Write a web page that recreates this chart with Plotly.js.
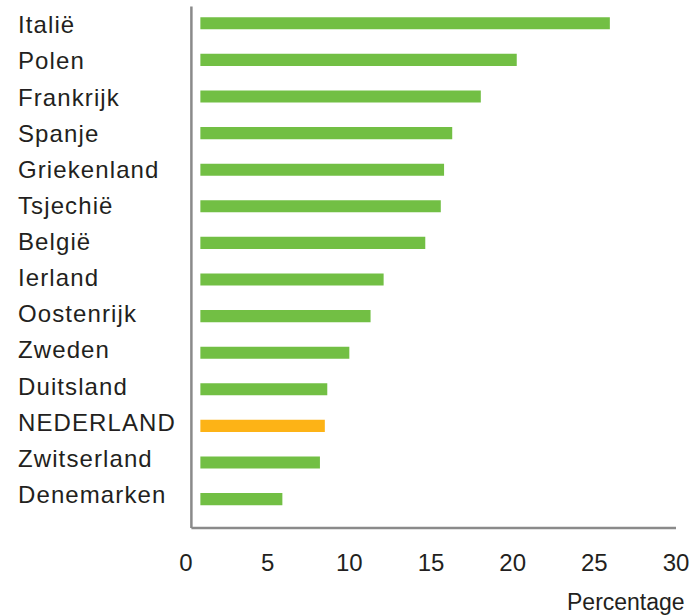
<!DOCTYPE html>
<html>
<head>
<meta charset="utf-8">
<script src="https://cdn.plot.ly/plotly-3.0.1.min.js"></script>
<style>
  html, body { margin: 0; padding: 0; background: #ffffff; }
  #chart { width: 700px; height: 615px; }
</style>
</head>
<body>
<div id="chart"></div>
<script>
// ---- data ----
const categories = ['Italië', 'Polen', 'Frankrijk', 'Spanje', 'Griekenland', 'Tsjechië', 'België',
  'Ierland', 'Oostenrijk', 'Zweden', 'Duitsland', 'NEDERLAND', 'Zwitserland', 'Denemarken'];
const values = [25.95, 20.25, 18.05, 16.3, 15.8, 15.6, 14.65, 12.1, 11.3, 10.0, 8.65, 8.5, 8.2, 5.9];
const highlight = 'NEDERLAND';
const tickValues = [0, 5, 10, 15, 20, 25, 30];
const tickLabels = ['0', '5', '10', '15', '20', '25', '30'];
const xTitle = 'Percentage';

// ---- styling ----
const GREEN = '#72bf44';
const ORANGE = '#fdb316';
const AXIS_COLOR = '#8a8a8a';
const TEXT_COLOR = '#231f20';
const FONT = 'Liberation Sans, Arial, Helvetica, sans-serif';
const BAR_START = 0.88;   // bars start a little right of the axis line
const AXIS_X = 0.33;      // position of the vertical axis line

// label column geometry (pixels inside the 700x615 page)
const PLOT_TOP = 4.7, PLOT_H = 523;
const LABEL_TOP = 24.5, LABEL_STEP = 36.13;

const trace = {
  type: 'bar',
  orientation: 'h',
  y: categories,
  x: values.map(v => v - BAR_START),
  base: BAR_START,
  width: 0.33,
  marker: { color: categories.map(c => c === highlight ? ORANGE : GREEN) },
  hoverinfo: 'skip'
};

const markedTicks = tickValues.filter(v => v > 0);

const annotations = categories.map((c, i) => ({
  xref: 'paper', x: -0.3475, xanchor: 'left', align: 'left',
  yref: 'paper', y: 1 - (LABEL_TOP + i * LABEL_STEP - PLOT_TOP) / PLOT_H, yanchor: 'middle',
  text: c, showarrow: false,
  font: { family: FONT, size: 24, color: TEXT_COLOR }
}));
annotations.push({
  xref: 'paper', x: 1.0215, xanchor: 'right',
  yref: 'paper', y: -0.141, yanchor: 'middle',
  text: xTitle, showarrow: false,
  font: { family: FONT, size: 23, color: TEXT_COLOR }
});

const layout = {
  width: 700, height: 615,
  margin: { l: 185.6, r: 24.3, t: PLOT_TOP, b: 615 - PLOT_TOP - PLOT_H, pad: 0 },
  paper_bgcolor: '#ffffff', plot_bgcolor: '#ffffff',
  showlegend: false,
  font: { family: FONT, color: TEXT_COLOR },
  xaxis: {
    range: [0, 30], showgrid: false, zeroline: false, showline: false,
    tickmode: 'array', tickvals: tickValues, ticktext: tickLabels,
    ticks: '', ticklabelstandoff: 18,
    tickfont: { family: FONT, size: 24, color: TEXT_COLOR },
    fixedrange: true
  },
  xaxis2: {
    overlaying: 'x', anchor: 'y', side: 'bottom',
    range: [0, 30], showgrid: false, zeroline: false, showline: false,
    tickmode: 'array', tickvals: markedTicks, showticklabels: false,
    ticks: 'outside', ticklen: 12, tickwidth: 2.5, tickcolor: AXIS_COLOR,
    fixedrange: true
  },
  xaxis3: {
    overlaying: 'x', anchor: 'y', side: 'bottom',
    range: [0, 30], showgrid: false, zeroline: false, showline: false,
    tickmode: 'array', tickvals: markedTicks, showticklabels: false,
    ticks: 'inside', ticklen: 6, tickwidth: 2.5, tickcolor: AXIS_COLOR,
    fixedrange: true
  },
  yaxis: {
    type: 'category', range: [13.79, -0.5],
    showgrid: false, zeroline: false, showline: false, showticklabels: false,
    ticks: '', fixedrange: true
  },
  shapes: [
    { type: 'line', xref: 'x', yref: 'paper', x0: AXIS_X, x1: AXIS_X, y0: 0, y1: 0.997,
      line: { color: AXIS_COLOR, width: 2.5 } },
    { type: 'line', xref: 'x', yref: 'paper', x0: AXIS_X, x1: 30, y0: 0, y1: 0,
      line: { color: AXIS_COLOR, width: 2.5 } }
  ],
  annotations: annotations
};

Plotly.newPlot('chart', [trace], layout, { displayModeBar: false, staticPlot: true }).then(() => {
  document.querySelectorAll('.annotation-text').forEach(el => {
    if (categories.includes(el.textContent)) el.style.letterSpacing = '1.1px';
  });
});
</script>
</body>
</html>
